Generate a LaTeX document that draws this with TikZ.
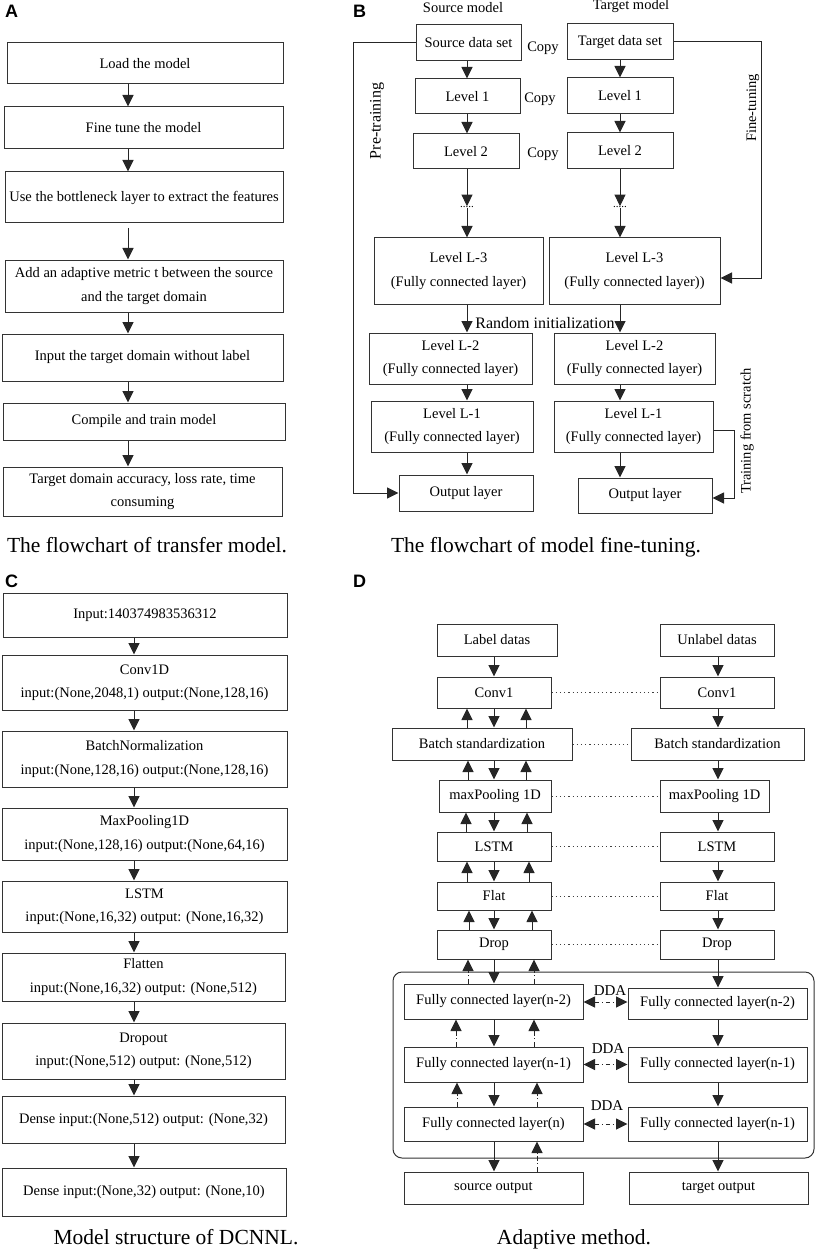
\documentclass[tikz,border=0pt]{standalone}
\usepackage{fontspec}
\setmainfont{Liberation Serif}
\newfontfamily\panelfont{Liberation Sans}
\usetikzlibrary{arrows.meta}

\tikzset{
  box/.style={draw=black!80, line width=1pt, inner sep=1pt, align=center,
    font=\fontsize{14.5}{23.5}\selectfont},
  sz/.style 2 args={minimum width=#1pt, minimum height=#2pt},
  arr/.style={draw=black!85, line width=1pt, -{Triangle[length=11.5pt,width=11pt]}},
  dasharr/.style={arr, dash pattern=on 5pt off 2.5pt on 1pt off 2.5pt},
  ddarr/.style={draw=black!85, line width=1pt, dash pattern=on 4pt off 3pt on 1pt off 3pt,
    {Triangle[length=11.5pt,width=11pt]}-{Triangle[length=11.5pt,width=11pt]}},
  dotlink/.style={draw=black!75, line width=0.9pt, dash pattern=on 1.2pt off 3pt},
  txt/.style={inner sep=0pt, font=\fontsize{14.5}{17}\selectfont},
  caption/.style={inner sep=0pt, anchor=base, font=\fontsize{21.5}{24}\selectfont},
  panel/.style={inner sep=0pt, anchor=base west, font=\panelfont\bfseries\fontsize{18}{20}\selectfont},
}

\begin{document}
\begin{tikzpicture}[x=1pt, y=-1pt]
\useasboundingbox (0,0) rectangle (816,1249);

% Panel A: flowchart of transfer model
\node[panel] (lA) at (5,18) {A};
\coordinate (colA) at (128,0);
\node[box, sz={276}{41}] (A1) at (145,63.5) {Load the model};
\node[box, sz={279}{42}] (A2) at (143.5,128) {Fine tune the model};
\node[box, sz={278}{51}] (A3) at (144,197.5) {Use the bottleneck layer to extract the features};
\node[box, sz={278}{52}] (A4) at (144,286) {Add an adaptive metric t between the source\\and the target domain};
\node[box, sz={281}{47}] (A5) at (142.5,357.5) {Input the target domain without label};
\node[box, sz={282}{37}] (A6) at (144,421.5) {Compile and train model};
\node[box, sz={279}{49}] (A7) at (142.5,491.5) {Target domain accuracy, loss rate, time\\consuming};
\coordinate (a3b) at (128,228);
\draw[arr] (A1.south -| colA) -- (A2.north -| colA);
\draw[arr] (A2.south -| colA) -- (A3.north -| colA);
\draw[arr] (a3b) -- (A4.north -| colA);
\draw[arr] (A4.south -| colA) -- (A5.north -| colA);
\draw[arr] (A5.south -| colA) -- (A6.north -| colA);
\draw[arr] (A6.south -| colA) -- (A7.north -| colA);
\node[caption] (capA) at (147,552) {The flowchart of transfer model.};

% Panel B: flowchart of model fine-tuning
\node[panel] (lB) at (353,18) {B};
\coordinate (colS) at (467,0);
\coordinate (colT) at (620,0);
\node[txt, anchor=base] (hS) at (463,12.5) {Source model};
\node[txt, anchor=base] (hT) at (631,10) {Target model};
\node[box, sz={105}{36}] (Ssrc) at (468.5,43) {Source data set};
\node[box, sz={106}{36}] (Tsrc) at (620,42) {Target data set};
\node[box, sz={105}{35}] (S1) at (467.5,96.5) {Level 1};
\node[box, sz={106}{36}] (T1) at (620,96) {Level 1};
\node[box, sz={106}{35}] (S2) at (466,151.5) {Level 2};
\node[box, sz={106}{36}] (T2) at (620,151) {Level 2};
\node[txt, font=\fontsize{11}{11}\selectfont] (Sdots) at (467,207) {.....};
\node[txt, font=\fontsize{11}{11}\selectfont] (Tdots) at (620,207) {.....};
\node[box, sz={169}{66}] (S3) at (458.5,271) {Level L-3\\(Fully connected layer)};
\node[box, sz={171}{66}] (T3) at (634.5,271) {Level L-3\\(Fully connected layer))};
\node[box, sz={163}{51}] (S4) at (450.5,358.5) {Level L-2\\(Fully connected layer)};
\node[box, sz={161}{51}] (T4) at (634.5,358.5) {Level L-2\\(Fully connected layer)};
\node[box, sz={162}{51}] (S5) at (452,426.5) {Level L-1\\(Fully connected layer)};
\node[box, sz={159}{51}] (T5) at (633.5,426.5) {Level L-1\\(Fully connected layer)};
\node[box, sz={134}{36}] (Sout) at (466,493) {Output layer};
\node[box, sz={134}{35}] (Tout) at (645,495.5) {Output layer};
\node[txt, anchor=base] (cp1) at (543,52) {Copy};
\node[txt, anchor=base] (cp2) at (540,103) {Copy};
\node[txt, anchor=base] (cp3) at (543,158) {Copy};
\node[txt, anchor=base, font=\fontsize{16}{18}\selectfont] (rinit) at (545,328) {Random initialization};
\draw[arr] (Ssrc.south -| colS) -- (S1.north -| colS);
\draw[arr] (S1.south -| colS) -- (S2.north -| colS);
\draw[arr] (S2.south -| colS) -- (Sdots.north);
\draw[arr] (Sdots.south) -- (S3.north -| colS);
\draw[arr] (S3.south -| colS) -- (S4.north -| colS);
\draw[arr] (S4.south -| colS) -- (S5.north -| colS);
\draw[arr] (S5.south -| colS) -- (Sout.north -| colS);
\draw[arr] (Tsrc.south -| colT) -- (T1.north -| colT);
\draw[arr] (T1.south -| colT) -- (T2.north -| colT);
\draw[arr] (T2.south -| colT) -- (Tdots.north);
\draw[arr] (Tdots.south) -- (T3.north -| colT);
\draw[arr] (T3.south -| colT) -- (T4.north -| colT);
\draw[arr] (T4.south -| colT) -- (T5.north -| colT);
\draw[arr] (T5.south -| colT) -- (Tout.north -| colT);
% side paths
\coordinate (ptb) at (353,493);
\draw[arr] (Ssrc.west) -| (ptb) -- (Sout.west |- ptb);
\node[txt, rotate=90, font=\fontsize{16}{18}\selectfont] (lpre) at (377,121) {Pre-training};
\coordinate (ftb) at (761,278);
\draw[arr] (Tsrc.east) -| (ftb) -- (T3.east |- ftb);
\node[txt, rotate=90] (lfine) at (753,108) {Fine-tuning};
\coordinate (tsa) at (734,430);
\coordinate (tsb) at (734,498);
\draw[arr] (T5.east |- tsa) -- (tsa) -- (tsb) -- (Tout.east |- tsb);
\node[txt, rotate=90] (lscr) at (747,431) {Training from scratch};
\node[caption] (capB) at (546,552) {The flowchart of model fine-tuning.};

% Panel C: model structure of DCNNL
\node[panel] (lC) at (5,587) {C};
\coordinate (colC) at (134,0);
\node[box, sz={284}{44}] (C1) at (145,615) {Input:140374983536312};
\node[box, sz={285}{55}] (C2) at (144.5,682.5) {Conv1D\\input:(None,2048,1) output:(None,128,16)};
\node[box, sz={285}{56}] (C3) at (144.5,759) {BatchNormalization\\input:(None,128,16) output:(None,128,16)};
\node[box, sz={285}{52}] (C4) at (144.5,834) {MaxPooling1D\\input:(None,128,16) output:(None,64,16)};
\node[box, sz={285}{51}] (C5) at (144.5,906.5) {LSTM\\input:(None,16,32) output: (None,16,32)};
\node[box, sz={283}{48}] (C6) at (143.5,977) {Flatten\\input:(None,16,32) output: (None,512)};
\node[box, sz={283}{56}] (C7) at (143.5,1051) {Dropout\\input:(None,512) output: (None,512)};
\node[box, sz={283}{47}] (C8) at (143.5,1119.5) {Dense input:(None,512) output: (None,32)};
\node[box, sz={284}{48}] (C9) at (144,1192) {Dense input:(None,32) output: (None,10)};
\draw[arr] (C1.south -| colC) -- (C2.north -| colC);
\draw[arr] (C2.south -| colC) -- (C3.north -| colC);
\draw[arr] (C3.south -| colC) -- (C4.north -| colC);
\draw[arr] (C4.south -| colC) -- (C5.north -| colC);
\draw[arr] (C5.south -| colC) -- (C6.north -| colC);
\draw[arr] (C6.south -| colC) -- (C7.north -| colC);
\draw[arr] (C7.south -| colC) -- (C8.north -| colC);
\draw[arr] (C8.south -| colC) -- (C9.north -| colC);
\node[caption] (capC) at (176,1244) {Model structure of DCNNL.};

% Panel D: adaptive method
\node[panel] (lD) at (353,587) {D};
\coordinate (colL) at (494,0);
\coordinate (colR) at (718,0);
\node[draw=black!80, line width=1pt, rounded corners=9pt, sz={421}{186}] (frame) at (603.5,1065) {};
\node[box, sz={120}{32}] (DLd) at (497,640) {Label datas};
\node[box, sz={114}{32}] (DRd) at (717,640) {Unlabel datas};
\node[box, sz={114}{31}] (DL1) at (494,692.5) {Conv1};
\node[box, sz={114}{31}] (DR1) at (717,692.5) {Conv1};
\node[box, sz={180}{32}] (DL2) at (482,744) {Batch standardization};
\node[box, sz={173}{32}] (DR2) at (717.5,744) {Batch standardization};
\node[box, sz={112}{32}] (DL3) at (495,796) {maxPooling 1D};
\node[box, sz={109}{32}] (DR3) at (714.5,796) {maxPooling 1D};
\node[box, sz={114}{29}] (DL4) at (494,846.5) {LSTM};
\node[box, sz={114}{29}] (DR4) at (717,846.5) {LSTM};
\node[box, sz={114}{28}] (DL5) at (494,896) {Flat};
\node[box, sz={114}{28}] (DR5) at (717,896) {Flat};
\node[box, sz={114}{29}] (DL6) at (494,944.5) {Drop};
\node[box, sz={114}{29}] (DR6) at (717,944.5) {Drop};
\node[box, sz={179}{35}] (DL7) at (493.5,1001.5) {Fully connected layer(n-2)};
\node[box, sz={179}{31}] (DR7) at (717.5,1003.5) {Fully connected layer(n-2)};
\node[box, sz={179}{35}] (DL8) at (493.5,1064.5) {Fully connected layer(n-1)};
\node[box, sz={179}{35}] (DR8) at (717.5,1064.5) {Fully connected layer(n-1)};
\node[box, sz={179}{34}] (DL9) at (493.5,1124) {Fully connected layer(n)};
\node[box, sz={179}{34}] (DR9) at (717.5,1124) {Fully connected layer(n-1)};
\node[box, sz={179}{32}] (DLo) at (493.5,1188) {source output};
\node[box, sz={179}{32}] (DRo) at (718.5,1188) {target output};
% dotted links between the two branches
\draw[dotlink] (DL1.east) -- (DR1.west);
\draw[dotlink] (DL2.east) -- (DR2.west);
\draw[dotlink] (DL3.east) -- (DR3.west);
\draw[dotlink] (DL4.east) -- (DR4.west);
\draw[dotlink] (DL5.east) -- (DR5.west);
\draw[dotlink] (DL6.east) -- (DR6.west);
% DDA
\draw[ddarr] (DL7.east |- 0,1002) -- (DR7.west |- 0,1002);
\draw[ddarr] (DL8.east) -- (DR8.west);
\draw[ddarr] (DL9.east) -- (DR9.west);
\node[txt, anchor=base, font=\fontsize{15}{17}\selectfont] (dda1) at (610,995) {DDA};
\node[txt, anchor=base, font=\fontsize{15}{17}\selectfont] (dda2) at (608,1053) {DDA};
\node[txt, anchor=base, font=\fontsize{15}{17}\selectfont] (dda3) at (607,1110) {DDA};
% left branch, forward
\draw[arr] (DLd.south -| colL) -- (DL1.north -| colL);
\draw[arr] (DL1.south -| colL) -- (DL2.north -| colL);
\draw[arr] (DL2.south -| colL) -- (DL3.north -| colL);
\draw[arr] (DL3.south -| colL) -- (DL4.north -| colL);
\draw[arr] (DL4.south -| colL) -- (DL5.north -| colL);
\draw[arr] (DL5.south -| colL) -- (DL6.north -| colL);
\draw[arr] (DL6.south -| colL) -- (DL7.north -| colL);
\draw[arr] (DL7.south -| colL) -- (DL8.north -| colL);
\draw[arr] (DL8.south -| colL) -- (DL9.north -| colL);
\draw[arr] (DL9.south -| colL) -- (DLo.north -| colL);
% left branch, backward
\draw[arr] (DL2.north -| 467,0) -- (DL1.south -| 467,0);
\draw[arr] (DL2.north -| 526,0) -- (DL1.south -| 526,0);
\draw[arr] (DL3.north -| 468,0) -- (DL2.south -| 468,0);
\draw[arr] (DL3.north -| 526,0) -- (DL2.south -| 526,0);
\draw[arr] (DL4.north -| 466,0) -- (DL3.south -| 466,0);
\draw[arr] (DL4.north -| 527,0) -- (DL3.south -| 527,0);
\draw[arr] (DL5.north -| 467,0) -- (DL4.south -| 467,0);
\draw[arr] (DL5.north -| 529,0) -- (DL4.south -| 529,0);
\draw[arr] (DL6.north -| 469,0) -- (DL5.south -| 469,0);
\draw[arr] (DL6.north -| 532,0) -- (DL5.south -| 532,0);
\draw[dasharr] (DL7.north -| 468,0) -- (DL6.south -| 468,0);
\draw[dasharr] (DL7.north -| 534,0) -- (DL6.south -| 534,0);
\draw[dasharr] (DL8.north -| 456,0) -- (DL7.south -| 456,0);
\draw[dasharr] (DL8.north -| 534,0) -- (DL7.south -| 534,0);
\draw[dasharr] (DL9.north -| 457,0) -- (DL8.south -| 457,0);
\draw[dasharr] (DL9.north -| 537,0) -- (DL8.south -| 537,0);
\draw[dasharr] (DLo.north -| 537,0) -- (DL9.south -| 537,0);
% right branch
\draw[arr] (DRd.south -| colR) -- (DR1.north -| colR);
\draw[arr] (DR1.south -| colR) -- (DR2.north -| colR);
\draw[arr] (DR2.south -| colR) -- (DR3.north -| colR);
\draw[arr] (DR3.south -| colR) -- (DR4.north -| colR);
\draw[arr] (DR4.south -| colR) -- (DR5.north -| colR);
\draw[arr] (DR5.south -| colR) -- (DR6.north -| colR);
\draw[arr] (DR6.south -| colR) -- (DR7.north -| colR);
\draw[arr] (DR7.south -| colR) -- (DR8.north -| colR);
\draw[arr] (DR8.south -| colR) -- (DR9.north -| colR);
\draw[arr] (DR9.south -| colR) -- (DRo.north -| colR);
\node[caption] (capD) at (574,1244) {Adaptive method.};
\end{tikzpicture}
\end{document}
